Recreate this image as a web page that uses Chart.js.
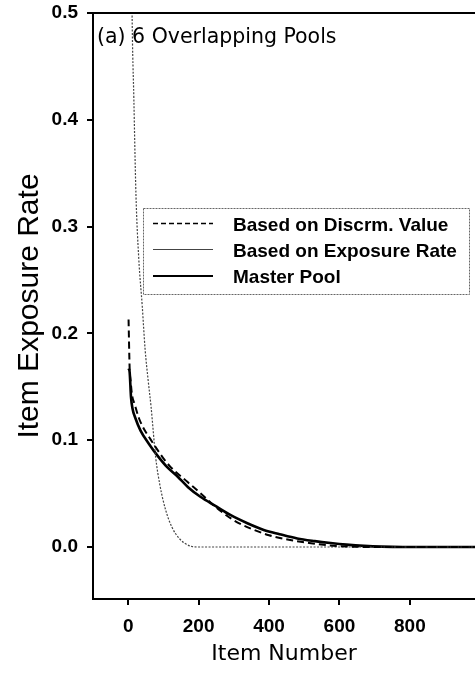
<!DOCTYPE html>
<html>
<head>
    <title>Item Exposure Rate</title>
    <script src="https://cdn.jsdelivr.net/npm/chart.js"></script>
    <style>
        html, body { margin: 0; padding: 0; background: white; overflow: hidden; }
        #wrap { width: 475px; height: 681px; }
    </style>
</head>
<body>
    <div id="wrap"><canvas id="rateChart" width="475" height="681"></canvas></div>

    <script>
        const panelLabel = '(a) 6 Overlapping Pools';
        const itemTicks = [0, 200, 400, 600, 800];
        const rateTicks = [0, 0.1, 0.2, 0.3, 0.4, 0.5];

        // Based on Discrm. Value (dashed)
        const discrmItems = [1, 4, 7, 11, 18, 30, 44, 63, 85, 100, 120, 168, 210, 250, 300, 350, 400, 460, 500, 555, 620, 700, 985];
        const discrmRates = [0.213, 0.168, 0.155, 0.142, 0.134, 0.121, 0.111, 0.101, 0.090, 0.083, 0.075, 0.061, 0.049, 0.037, 0.025, 0.017, 0.011, 0.0065, 0.0045, 0.002, 0.0005, 0, 0];

        // Based on Exposure Rate (thin)
        const exposureItems = [5, 11, 16, 22, 30, 40, 48, 57, 65, 78, 90, 106, 125, 145, 163, 180, 200, 985];
        const exposureRates = [0.75, 0.50, 0.42, 0.33, 0.27, 0.225, 0.185, 0.155, 0.131, 0.084, 0.058, 0.035, 0.018, 0.008, 0.003, 0.0005, 0, 0];

        // Master Pool (solid)
        const masterItems = [1, 4, 8, 12, 20, 35, 60, 82, 110, 140, 170, 205, 250, 290, 340, 385, 430, 480, 530, 575, 620, 670, 720, 780, 985];
        const masterRates = [0.167, 0.164, 0.140, 0.130, 0.121, 0.109, 0.096, 0.086, 0.075, 0.066, 0.056, 0.047, 0.038, 0.030, 0.022, 0.016, 0.012, 0.008, 0.0055, 0.0037, 0.0022, 0.001, 0.0003, 0, 0];

        function toPoints(xs, ys) {
            return xs.map((x, i) => ({ x: x, y: ys[i] }));
        }

        const tickFont = { family: '"Liberation Sans", Arial, sans-serif', size: 19, weight: 'bold' };

        // draws the frame top, the panel label and the boxed legend
        const overlay = {
            id: 'overlay',
            afterDraw(chart) {
                const { ctx, chartArea } = chart;
                ctx.save();
                ctx.strokeStyle = '#000';
                ctx.lineWidth = 2;
                ctx.beginPath();
                ctx.moveTo(chartArea.left, chartArea.top);
                ctx.lineTo(chartArea.right, chartArea.top);
                ctx.stroke();

                ctx.fillStyle = '#000';
                ctx.textBaseline = 'alphabetic';
                ctx.font = '20.5px "DejaVu Sans"';
                ctx.fillText(panelLabel, 97, 43);

                // legend box
                ctx.strokeStyle = '#666';
                ctx.lineWidth = 1;
                ctx.setLineDash([2, 1]);
                ctx.strokeRect(143.5, 208.5, 326, 86);

                const rows = [223.5, 249.5, 276];
                ctx.font = 'bold 19px "Liberation Sans", Arial, sans-serif';
                chart.data.datasets.forEach((ds, i) => {
                    ctx.strokeStyle = ds.borderColor;
                    ctx.lineWidth = ds.legendWidth;
                    ctx.setLineDash(ds.legendDash);
                    ctx.beginPath();
                    ctx.moveTo(153, rows[i]);
                    ctx.lineTo(213, rows[i]);
                    ctx.stroke();
                    ctx.fillText(ds.label, 233, rows[i] + 7);
                });
                ctx.restore();
            }
        };

        const ctx = document.getElementById('rateChart').getContext('2d');
        const chart = new Chart(ctx, {
            type: 'line',
            data: {
                datasets: [{
                    label: 'Based on Discrm. Value',
                    data: toPoints(discrmItems, discrmRates),
                    borderColor: '#000',
                    borderWidth: 2,
                    borderDash: [7, 4],
                    legendWidth: 1.5,
                    legendDash: [5, 3],
                    pointRadius: 0,
                    cubicInterpolationMode: 'monotone'
                }, {
                    label: 'Based on Exposure Rate',
                    data: toPoints(exposureItems, exposureRates),
                    borderColor: '#444',
                    borderWidth: 1.2,
                    borderDash: [2, 1.5],
                    legendWidth: 1.2,
                    legendDash: [],
                    pointRadius: 0,
                    cubicInterpolationMode: 'monotone'
                }, {
                    label: 'Master Pool',
                    data: toPoints(masterItems, masterRates),
                    borderColor: '#000',
                    borderWidth: 2.6,
                    borderDash: [],
                    legendWidth: 2,
                    legendDash: [],
                    pointRadius: 0,
                    cubicInterpolationMode: 'monotone'
                }]
            },
            options: {
                responsive: false,
                animation: false,
                devicePixelRatio: 1,
                layout: { padding: { top: 13, right: 0, left: 0, bottom: 0 } },
                plugins: {
                    legend: { display: false },
                    tooltip: { enabled: false }
                },
                scales: {
                    x: {
                        type: 'linear',
                        min: -100,
                        max: 985,
                        afterBuildTicks: s => { s.ticks = itemTicks.map(v => ({ value: v })); },
                        afterFit: s => { s.height = 82; s.paddingLeft = 0; s.paddingRight = 0; },
                        grid: { drawOnChartArea: false, drawTicks: true, tickLength: 6, color: '#000', lineWidth: 2 },
                        border: { display: true, color: '#000', width: 2 },
                        ticks: { font: tickFont, color: '#000', padding: 10, maxRotation: 0, autoSkip: false },
                        title: {
                            display: true,
                            text: 'Item Number',
                            color: '#000',
                            font: { family: '"DejaVu Sans"', size: 22 },
                            padding: { top: 0, bottom: 14 }
                        }
                    },
                    y: {
                        min: -0.0487,
                        max: 0.5,
                        afterBuildTicks: s => { s.ticks = rateTicks.map(v => ({ value: v })); },
                        afterFit: s => { s.width = 93; s.paddingTop = 0; s.paddingBottom = 0; },
                        grid: { drawOnChartArea: false, drawTicks: true, tickLength: 6, color: '#000', lineWidth: 2 },
                        border: { display: true, color: '#000', width: 2 },
                        ticks: { font: tickFont, color: '#000', padding: 9, callback: v => v.toFixed(1) },
                        title: {
                            display: true,
                            text: 'Item Exposure Rate',
                            color: '#000',
                            font: { family: '"Liberation Sans", Arial, sans-serif', size: 30 },
                            padding: { top: 12, bottom: 0 }
                        }
                    }
                }
            },
            plugins: [overlay]
        });
    </script>
</body>
</html>
